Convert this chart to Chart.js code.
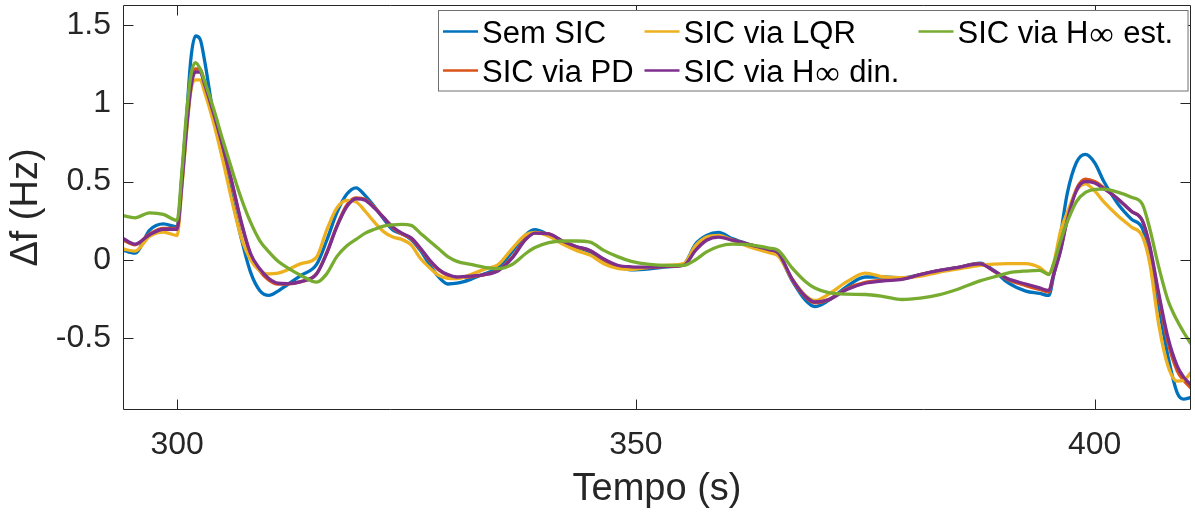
<!DOCTYPE html>
<html>
<head>
<meta charset="utf-8">
<script src="https://cdn.jsdelivr.net/npm/chart.js@4.4.1/dist/chart.umd.min.js"></script>
<style>
  html, body { margin: 0; padding: 0; background: #ffffff; }
  #c { display: block; }
</style>
</head>
<body>
<canvas id="c" width="1195" height="512"></canvas>
<script>
// ---------- data ----------
const T = [294, 295.4, 297, 298.5, 300, 300.5, 301, 301.5, 302, 302.5,
  303, 304, 305, 306, 307, 308, 309, 310, 311, 312,
  313.5, 315.2, 316.3, 317.4, 318.5, 319.5, 320.5, 321.5, 322.5, 323.5,
  324.5, 325.5, 326.5, 327.5, 328.5, 329.5, 330.5, 332, 333.5, 335,
  336.5, 338, 339, 340.5, 342, 343.5, 345, 346.5, 348, 349.5,
  351.5, 353.5, 355.2, 356.5, 357.7, 359, 360.5, 362.5, 364.5, 365.5,
  367, 368.5, 369.5, 371, 373, 375, 377, 379, 381, 383,
  385, 387.5, 389, 390.5, 392.5, 394, 395, 395.5, 396.3, 397,
  398, 399, 400, 401, 402.5, 404, 405.2, 406, 407, 408,
  409, 409.7, 410.5];

const semSIC = [0.064, 0.042, 0.19, 0.23, 0.21, 0.52, 0.89, 1.285, 1.43, 1.41,
  1.27, 0.91, 0.656, 0.39, 0.134, -0.079, -0.196, -0.228, -0.20, -0.16,
  -0.10, -0.03, 0.123, 0.30, 0.42, 0.46, 0.41, 0.34, 0.262, 0.19,
  0.165, 0.13, 0.06, -0.03, -0.11, -0.155, -0.15, -0.125, -0.09, -0.05,
  0.05, 0.16, 0.192, 0.16, 0.115, 0.08, 0.05, 0.0, -0.045, -0.064,
  -0.058, -0.045, -0.03, 0.1, 0.155, 0.175, 0.135, 0.095, 0.06, 0.035,
  -0.13, -0.26, -0.30, -0.26, -0.17, -0.11, -0.11, -0.115, -0.095, -0.07,
  -0.05, -0.022, -0.068, -0.145, -0.2, -0.215, -0.228, -0.11, 0.166, 0.42,
  0.62, 0.673, 0.62, 0.50, 0.36, 0.26, 0.2, 0.02, -0.30, -0.62,
  -0.85, -0.89, -0.88];

const sicPD = [0.13, 0.095, 0.165, 0.2, 0.2, 0.48, 0.84, 1.12, 1.22, 1.22,
  1.13, 0.94, 0.72, 0.48, 0.23, 0.03, -0.07, -0.13, -0.155, -0.155,
  -0.14, -0.09, 0.045, 0.215, 0.35, 0.395, 0.385, 0.335, 0.27, 0.205,
  0.165, 0.135, 0.07, -0.005, -0.065, -0.1, -0.115, -0.11, -0.095, -0.068,
  0.015, 0.135, 0.172, 0.165, 0.118, 0.082, 0.058, 0.0, -0.04, -0.05,
  -0.05, -0.042, -0.036, 0.065, 0.13, 0.15, 0.128, 0.095, 0.063, 0.042,
  -0.125, -0.24, -0.275, -0.255, -0.185, -0.145, -0.13, -0.122, -0.095, -0.07,
  -0.05, -0.025, -0.072, -0.125, -0.165, -0.19, -0.205, -0.1, 0.07, 0.26,
  0.45, 0.515, 0.5, 0.46, 0.39, 0.31, 0.25, 0.08, -0.24, -0.53,
  -0.71, -0.77, -0.82];

const sicLQR = [0.07, 0.055, 0.15, 0.177, 0.155, 0.45, 0.8, 1.08, 1.15, 1.15,
  1.07, 0.87, 0.63, 0.37, 0.14, 0.0, -0.07, -0.09, -0.085, -0.065,
  -0.025, 0.017, 0.19, 0.33, 0.38, 0.37, 0.31, 0.24, 0.18, 0.145,
  0.13, 0.095, 0.01, -0.05, -0.10, -0.118, -0.12, -0.095, -0.06, -0.03,
  0.07, 0.16, 0.175, 0.15, 0.1, 0.06, 0.03, -0.025, -0.055, -0.062,
  -0.047, -0.035, -0.025, 0.09, 0.145, 0.155, 0.125, 0.08, 0.045, 0.025,
  -0.12, -0.23, -0.26, -0.22, -0.14, -0.085, -0.11, -0.115, -0.105, -0.08,
  -0.06, -0.036, -0.028, -0.025, -0.025, -0.05, -0.09, -0.03, 0.187, 0.30,
  0.44, 0.485, 0.44, 0.37, 0.283, 0.21, 0.15, -0.02, -0.42, -0.68,
  -0.775, -0.77, -0.72];

const sicHinfDin = [0.14, 0.10, 0.16, 0.195, 0.195, 0.47, 0.82, 1.1, 1.2, 1.2,
  1.12, 0.93, 0.72, 0.49, 0.24, 0.04, -0.058, -0.12, -0.15, -0.152,
  -0.14, -0.09, 0.04, 0.21, 0.34, 0.39, 0.38, 0.33, 0.27, 0.21,
  0.17, 0.14, 0.075, 0.0, -0.06, -0.095, -0.11, -0.105, -0.095, -0.07,
  0.01, 0.13, 0.17, 0.165, 0.12, 0.085, 0.06, 0.005, -0.035, -0.045,
  -0.047, -0.04, -0.036, 0.06, 0.125, 0.145, 0.125, 0.095, 0.065, 0.045,
  -0.12, -0.235, -0.27, -0.255, -0.19, -0.15, -0.135, -0.125, -0.095, -0.07,
  -0.05, -0.026, -0.07, -0.12, -0.155, -0.18, -0.196, -0.1, 0.06, 0.25,
  0.44, 0.50, 0.49, 0.454, 0.39, 0.31, 0.25, 0.09, -0.22, -0.50,
  -0.68, -0.75, -0.80];

const sicHinfEst = [0.283, 0.268, 0.30, 0.29, 0.251, 0.55, 0.92, 1.18, 1.26, 1.22,
  1.14, 0.96, 0.76, 0.57, 0.39, 0.24, 0.123, 0.05, -0.01, -0.05,
  -0.10, -0.143, -0.09, 0.02, 0.09, 0.13, 0.17, 0.195, 0.215, 0.223,
  0.226, 0.22, 0.17, 0.12, 0.07, 0.02, -0.01, -0.03, -0.048, -0.056,
  -0.03, 0.04, 0.078, 0.11, 0.12, 0.12, 0.113, 0.06, 0.02, -0.01,
  -0.03, -0.036, -0.036, 0.0, 0.05, 0.085, 0.10, 0.095, 0.075, 0.06,
  -0.05, -0.14, -0.18, -0.21, -0.22, -0.222, -0.235, -0.254, -0.245, -0.225,
  -0.19, -0.135, -0.11, -0.085, -0.072, -0.068, -0.094, -0.03, 0.123, 0.24,
  0.37, 0.43, 0.45, 0.452, 0.432, 0.40, 0.355, 0.2, -0.05, -0.26,
  -0.39, -0.463, -0.537];

const seriesNames = ['Sem SIC', 'SIC via PD', 'SIC via LQR', 'SIC via H\u221E din.', 'SIC via H\u221E est.'];
const seriesValues = [semSIC, sicPD, sicLQR, sicHinfDin, sicHinfEst];
const seriesColors = ['#0072BD', '#D95319', '#EDB120', '#7E2F8E', '#77AC30'];

const xTicks = [300, 350, 400];
const yTicks = [-0.5, 0, 0.5, 1, 1.5];
const xRange = [294.1, 410.5];
const yRange = [-0.96, 1.628];

const xTitle = 'Tempo (s)';
const yTitle = '\u0394f (Hz)';

// ---------- chart ----------
const FONT = "'Liberation Sans', Arial, Helvetica, sans-serif";
const AX = '#262626';

const datasets = seriesNames.map((name, k) => ({
  label: name,
  data: T.map((t, i) => ({ x: t, y: seriesValues[k][i] })),
  borderColor: seriesColors[k],
  backgroundColor: seriesColors[k],
  borderWidth: 3.3,
  pointRadius: 0,
  fill: false,
  cubicInterpolationMode: 'monotone',
  order: seriesNames.length - k
}));

function drawRichText(ctx, text, x, y) {
  const parts = text.split('\u221E');
  let cx = x;
  parts.forEach((p, i) => {
    ctx.font = '31px ' + FONT;
    ctx.fillText(p, cx, y);
    cx += ctx.measureText(p).width;
    if (i < parts.length - 1) {
      ctx.font = "200 34px 'DejaVu Sans'";
      ctx.fillText('\u221E', cx + 1, y + 2);
      cx += ctx.measureText('\u221E').width + 2;
    }
  });
}

const framePlugin = {
  id: 'frame',
  afterDatasetsDraw(chart) {
    const { ctx, chartArea: a, scales: { x, y } } = chart;
    ctx.save();
    ctx.strokeStyle = AX;
    ctx.lineWidth = 1;
    const L = Math.round(a.left) + 0.5, R = Math.round(a.right) - 0.5;
    const Tp = Math.round(a.top) + 0.5, B = Math.round(a.bottom) - 0.5;
    ctx.beginPath();
    ctx.rect(L, Tp, R - L, B - Tp);
    const tl = 10;
    xTicks.forEach(v => {
      const px = Math.round(x.getPixelForValue(v)) + 0.5;
      ctx.moveTo(px, B); ctx.lineTo(px, B - tl);
      ctx.moveTo(px, Tp); ctx.lineTo(px, Tp + tl);
    });
    yTicks.forEach(v => {
      const py = Math.round(y.getPixelForValue(v)) + 0.5;
      ctx.moveTo(L, py); ctx.lineTo(L + tl, py);
      ctx.moveTo(R, py); ctx.lineTo(R - tl, py);
    });
    ctx.stroke();
    ctx.restore();
  },
  afterDraw(chart) {
    const { ctx } = chart;
    ctx.save();
    const bx = 438.5, by = 10.5, bw = 749.5, bh = 80.5;
    ctx.fillStyle = '#ffffff';
    ctx.fillRect(bx, by, bw, bh);
    ctx.strokeStyle = '#707070';
    ctx.lineWidth = 1;
    ctx.strokeRect(bx, by, bw, bh);
    const colX = [443, 644.5, 918.5];
    const rowY = [33, 72];
    ctx.textBaseline = 'middle';
    ctx.textAlign = 'left';
    seriesNames.forEach((name, k) => {
      const col = Math.floor(k / 2), row = k % 2;
      const x0 = colX[col], yy = rowY[row];
      ctx.strokeStyle = seriesColors[k];
      ctx.lineWidth = 2.5;
      ctx.beginPath();
      ctx.moveTo(x0, yy - 1.5);
      ctx.lineTo(x0 + 35, yy - 1.5);
      ctx.stroke();
      ctx.fillStyle = '#000000';
      drawRichText(ctx, name, x0 + 39, yy + 1);
    });
    ctx.restore();
  }
};

new Chart(document.getElementById('c'), {
  type: 'line',
  data: { datasets },
  options: {
    responsive: false,
    animation: false,
    devicePixelRatio: 1,
    layout: { padding: { top: 5, right: 4, left: 0, bottom: 0 } },
    plugins: {
      legend: { display: false },
      tooltip: { enabled: false }
    },
    scales: {
      x: {
        type: 'linear',
        min: xRange[0],
        max: xRange[1],
        afterBuildTicks: s => { s.ticks = xTicks.map(v => ({ value: v })); },
        afterFit: s => { s.height = 102; s.paddingLeft = 0; s.paddingRight = 0; },
        grid: { display: false, drawTicks: false },
        border: { display: false },
        ticks: {
          autoSkip: false,
          maxRotation: 0,
          padding: 16,
          color: AX,
          font: { family: FONT, size: 32 },
          callback: v => String(v)
        },
        title: {
          display: true,
          text: xTitle,
          color: AX,
          font: { family: FONT, size: 38 },
          padding: { top: 0, bottom: 0 }
        }
      },
      y: {
        type: 'linear',
        min: yRange[0],
        max: yRange[1],
        afterBuildTicks: s => { s.ticks = yTicks.map(v => ({ value: v })); },
        afterFit: s => { s.width = 123; s.paddingTop = 0; s.paddingBottom = 0; },
        grid: { display: false, drawTicks: false },
        border: { display: false },
        ticks: {
          autoSkip: false,
          padding: 12,
          color: AX,
          font: { family: FONT, size: 32 },
          callback: v => String(v)
        },
        title: {
          display: true,
          text: yTitle,
          color: AX,
          font: { family: FONT, size: 38 },
          padding: { top: 4, bottom: 0 }
        }
      }
    }
  },
  plugins: [framePlugin]
});
</script>
</body>
</html>
